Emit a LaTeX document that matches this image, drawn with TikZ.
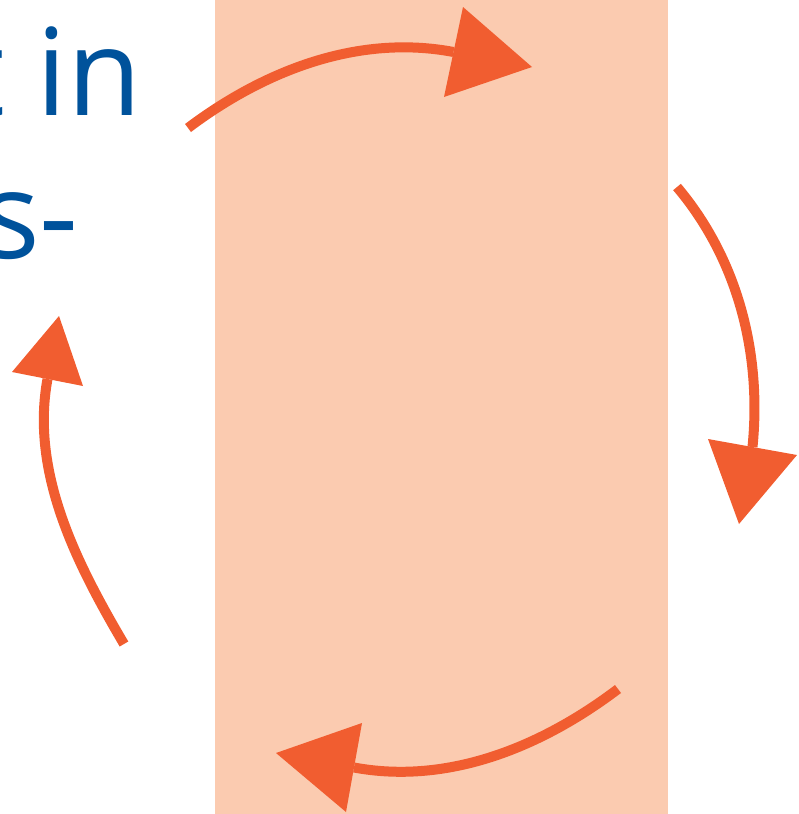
\documentclass[tikz,border=0pt]{standalone}
\usepackage{fontspec}
\setmainfont{Open Sans}
\definecolor{peach}{RGB}{251,203,176}
\definecolor{arroworange}{RGB}{241,93,48}
\definecolor{textblue}{RGB}{0,82,155}
\begin{document}
\begin{tikzpicture}[x=1pt,y=-1pt,
  arrowline/.style={draw=arroworange,line width=10pt,line cap=butt},
  arrowhead/.style={fill=arroworange,draw=none},
  bigtext/.style={text=textblue,inner sep=0pt,anchor=base east,font=\fontsize{121}{121}\selectfont}]
\useasboundingbox (0,0) rectangle (798,814);
\clip (0,0) rectangle (798,814);
\fill[peach] (215,0) rectangle (668,814);
% text (cut off at the left)
\node[bigtext] (t1) at (142,115) {t in};
\node[bigtext] (t2) at (79,258) {s-};
% top arrow
\coordinate (a1s) at (188,128);
\coordinate (a1e) at (453.5,52);
\draw[arrowline] (a1s) .. controls (265,70) and (359,34) .. (a1e);
\fill[arrowhead] (463,7) -- (532,67) -- (444,97) -- cycle;
% right arrow
\coordinate (a2s) at (677,187);
\coordinate (a2e) at (752.5,447);
\draw[arrowline] (a2s) .. controls (737,258) and (762,352) .. (a2e);
\fill[arrowhead] (708,439) -- (797,455) -- (739,524) -- cycle;
% bottom arrow
\coordinate (a3s) at (618,689);
\coordinate (a3e) at (354,767.5);
\draw[arrowline] (a3s) .. controls (541.5,747) and (448,785) .. (a3e);
\fill[arrowhead] (362,723) -- (276,753) -- (346,812) -- cycle;
% left arrow
\coordinate (a4s) at (124,644);
\coordinate (a4e) at (47.5,379);
\draw[arrowline] (a4s) .. controls (75.7,562) and (30.4,472) .. (a4e);
\fill[arrowhead] (83,386) -- (59,316) -- (12,372) -- cycle;
\end{tikzpicture}
\end{document}
